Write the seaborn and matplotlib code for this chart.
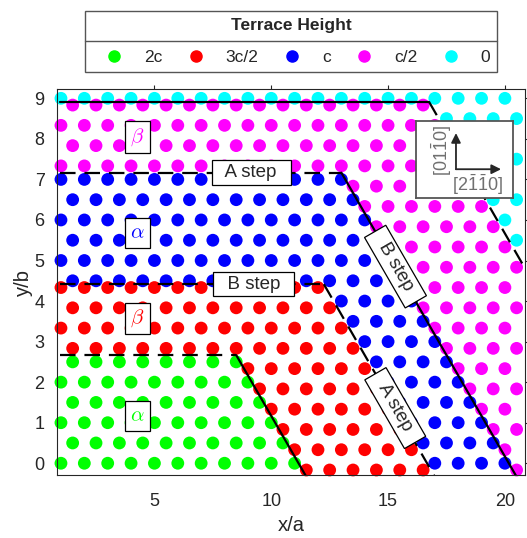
import numpy as np
import pandas as pd
import seaborn as sns
import matplotlib.pyplot as plt
from matplotlib.lines import Line2D

sns.set_style("white")
plt.rcParams['font.family'] = ['Liberation Sans', 'DejaVu Sans']
plt.rcParams['mathtext.fontset'] = 'custom'
plt.rcParams['mathtext.rm'] = 'Liberation Sans'
plt.rcParams['mathtext.it'] = 'Liberation Sans:italic'

# terraces from the lowest step edge (highest terrace) upwards
terraces = ['2c', '3c/2', 'c', 'c/2', '0']
colors = ['#00ff00', '#ff0000', '#0000ff', '#ff00ff', '#00ffff']
stacking = ['alpha', 'beta', 'alpha', 'beta', 'alpha']
greek = [r'$\alpha$', r'$\beta$', r'$\alpha$', r'$\beta$']
greek_y = [1.17, 3.57, 5.68, 8.05]
greek_x = 4.27

# step edges: horizontal part at y = step_y, inclined part on x + y = step_s
step_y = [2.667, 4.417, 7.167, 8.917]
step_s = [11.167, 16.667, 20.167, 25.667]
step_hstyle = ['--', '--', '--', '-']
step_dstyle = ['-', '--', '-', '--']

# step labels: (text, step index, horizontal?, position along the edge)
label_text = ['A step', 'B step', 'B step', 'A step']
label_step = [2, 1, 2, 1]
label_horiz = [True, True, False, False]
label_pos = [9.15, 9.24, 4.85, 1.36]   # x for horizontal, y for inclined

# hexagonal lattice: rows every b/2, x in units of a
row_y = np.arange(19) / 2
x_int = np.arange(1, 21)
x_half = np.arange(1.5, 21, 1.0)
beta_shift = -1 / 6


def terrace_of(x, y):
    for i in range(4):
        if y < step_y[i] and x + y < step_s[i]:
            return i
    return 4


rows = []
for k, yr in enumerate(row_y):
    for kind, yy, xs in [('alpha', yr, x_int if k % 2 == 0 else x_half),
                         ('beta', yr + beta_shift, x_half if k % 2 == 0 else x_int)]:
        for xx in xs:
            t = terrace_of(xx, yy)
            if stacking[t] == kind:
                rows.append((xx, yy, terraces[t]))
df = pd.DataFrame(rows, columns=['x', 'y', 'terrace'])

fig = plt.figure(figsize=(5.27, 5.38), dpi=100)
ax = fig.add_axes([57 / 527, 63 / 538, 468 / 527, 386 / 538])

sns.scatterplot(data=df, x='x', y='y', hue='terrace', hue_order=terraces,
                palette=colors, s=85, linewidth=0, legend=False, ax=ax,
                clip_on=False, zorder=2)

x0, ybot, xright = 0.95, -0.6, 22
for i in range(4):
    yc, xc = step_y[i], step_s[i] - step_y[i]
    ax.plot([x0, xc], [yc, yc], color='k', lw=1.6, ls=step_hstyle[i],
            dashes=(7, 4) if step_hstyle[i] == '--' else (None, None), zorder=3)
    x_end = min(step_s[i] - ybot, xright)
    ax.plot([xc, x_end], [yc, step_s[i] - x_end], color='k', lw=1.6,
            ls=step_dstyle[i], dashes=(7, 4) if step_dstyle[i] == '--' else (None, None),
            zorder=3)

box = dict(boxstyle='square,pad=0.2', fc='white', ec='black', lw=0.9)
for txt, si, hz, p in zip(label_text, label_step, label_horiz, label_pos):
    if hz:
        ax.text(p, step_y[si], '  ' + txt + '  ', ha='center', va='center',
                fontsize=13.5, bbox=box, zorder=4)
    else:
        ax.text(step_s[si] - p, p, '  ' + txt + '  ', ha='center', va='center',
                rotation=-60, rotation_mode='anchor', fontsize=13.5, bbox=box, zorder=4)

for g, gy, c in zip(greek, greek_y, colors):
    ax.text(greek_x, gy, g, math_fontfamily='cm', fontsize=15, color=c,
            ha='center', va='center', zorder=4,
            bbox=dict(boxstyle='square,pad=0.25', fc='white', ec='black', lw=0.9))

ax.set_xlim(0.83, 20.86)
ax.set_ylim(-0.29, 9.23)
ax.set_xticks([5, 10, 15, 20])
ax.set_yticks(range(10))
ax.tick_params(direction='out', length=3, width=0.8, colors='#262626',
               labelsize=13, top=True, right=True, pad=6)
ax.tick_params(axis='x', pad=10)
for sp in ax.spines.values():
    sp.set_color('#262626')
    sp.set_linewidth(0.8)
ax.set_xlabel('x/a', fontsize=14.5, color='#262626', labelpad=4)
ax.set_ylabel('y/b', fontsize=14.5, color='#262626', labelpad=1)

# orientation inset
ins = ax.inset_axes([0.767, 0.717, 0.2066, 0.201])
ins.set_zorder(10)
ins.set_xlim(0, 1)
ins.set_ylim(0, 1)
ins.set_xticks([])
ins.set_yticks([])
ins.set_facecolor('white')
for sp in ins.spines.values():
    sp.set_color('#555555')
    sp.set_linewidth(1.3)
arr = dict(arrowstyle='-|>', color='#262626', lw=1.3, mutation_scale=14, shrinkA=0, shrinkB=0)
ins.annotate('', xy=(0.414, 0.84), xytext=(0.414, 0.374), arrowprops=arr)
ins.annotate('', xy=(0.88, 0.374), xytext=(0.414, 0.374), arrowprops=arr)
ins.text(0.64, 0.17, r'[2$\bar{1}\bar{1}$0]', ha='center', va='center', color='#707070', fontsize=13)
ins.text(0.27, 0.62, r'[01$\bar{1}$0]', ha='center', va='center', rotation=90, color='#707070', fontsize=13)

handles = [Line2D([], [], ls='', marker='o', ms=8, color=c) for c in colors]
leg = fig.legend(handles, terraces, ncol=5, loc='upper center',
                 bbox_to_anchor=(291 / 527, 1 - 11 / 538), title='Terrace Height',
                 title_fontproperties={'weight': 'bold', 'size': 12.5}, fontsize=12.5,
                 frameon=True, fancybox=False, edgecolor='#555555', framealpha=1,
                 handlelength=2.6, handletextpad=0.4, columnspacing=0.65,
                 borderpad=0.4, labelspacing=0.95, borderaxespad=0)
leg.get_frame().set_linewidth(1.0)

fig.canvas.draw()
inv = fig.transFigure.inverted()
bb = leg.get_window_extent().transformed(inv)
tb = leg.get_title().get_window_extent().transformed(inv)
eb = leg.get_texts()[0].get_window_extent().transformed(inv)
ym = (tb.y0 + eb.y1) / 2
fig.add_artist(Line2D([bb.x0, bb.x1], [ym, ym], color='#555555', lw=1.0, zorder=10))

fig.savefig('out.png', dpi=100)
